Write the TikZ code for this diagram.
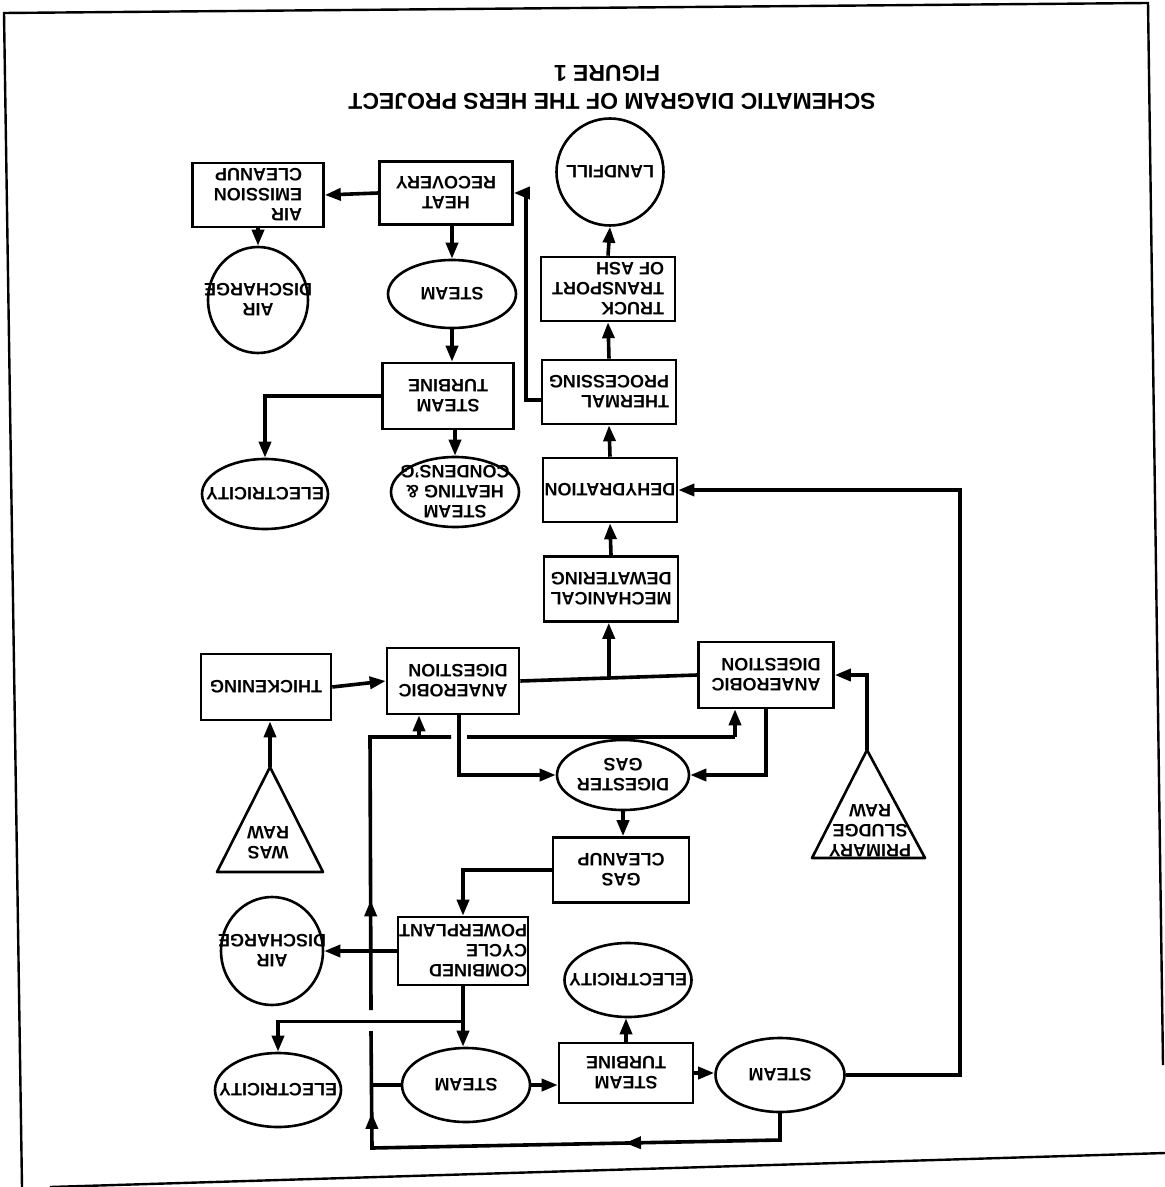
\documentclass[tikz,border=0pt]{standalone}
\usepackage{fontspec}
\setmainfont{Liberation Sans}
\usetikzlibrary{arrows.meta,shapes.geometric,calc,decorations.markings}

\tikzset{
  lbl/.style={font=\bfseries\fontsize{9}{10}\selectfont, rotate=180, inner sep=0pt},
  ttl/.style={font=\bfseries\fontsize{11.5}{12}\selectfont, rotate=180, inner sep=0pt},
  stepbox/.style 2 args={draw, line width=1.3pt, rectangle, inner sep=0pt,
    minimum width=#1, minimum height=#2},
  oval/.style 2 args={draw, line width=1.3pt, ellipse, inner sep=0pt,
    minimum width=#1, minimum height=#2},
  plain/.style={line width=1.8pt},
  arr/.style={line width=1.8pt, -{Triangle[length=8pt,width=6pt]}},
  midarr/.style={postaction={decorate,decoration={markings,
    mark=at position #1 with {\arrow{Triangle[length=8pt,width=6pt]}}}}},
  page/.style={line width=1.2pt},
}

\begin{document}
\begin{tikzpicture}[x=0.5pt,y=-0.5pt]
\useasboundingbox (0,0) rectangle (1165,1187);

% sheet frame
\coordinate (fTL) at (4,13);
\coordinate (fTR) at (1148,3);
\coordinate (fRB) at (1163,1065);
\coordinate (fLB) at (22,1187);
\coordinate (fBL) at (50,1187);
\coordinate (fBR) at (1165,1153);
\draw[page] (fLB) -- (fTL) -- (fTR) -- (fRB);
\draw[page] (fBL) -- (fBR);

% headings
\node[ttl] (fig) at (607,73) {FIGURE 1};
\node[ttl] (title) at (612,101) {SCHEMATIC DIAGRAM OF THE HERS PROJECT};

% process blocks
\node[oval={53.5pt}{53.5pt}] (landfill) at (610,172) {};
\node[stepbox={66.5pt}{31.5pt}] (heatrec) at (446,193) {};
\node[stepbox={65.5pt}{32pt}] (aircl) at (258,195) {};
\node[stepbox={67pt}{32pt}] (truck) at (608,289) {};
\node[oval={64pt}{34pt}] (steam1) at (452,294) {};
\node[oval={50pt}{53pt}] (aird1) at (258,300) {};
\node[stepbox={67pt}{32pt}] (thermal) at (609,392) {};
\node[stepbox={65.5pt}{33pt}] (turb1) at (448,396) {};
\node[oval={63pt}{35pt}] (elec1) at (265,494) {};
\node[oval={64pt}{35pt}] (heatcond) at (455,492) {};
\node[stepbox={67pt}{32pt}] (dehyd) at (610,490) {};
\node[stepbox={67pt}{32.5pt}] (mech) at (611,589) {};
\node[stepbox={65pt}{33pt}] (thick) at (266,687) {};
\node[stepbox={66pt}{33pt}] (adL) at (453,681) {};
\node[stepbox={67.5pt}{33pt}] (adR) at (766,675) {};
\node[oval={66pt}{35pt}] (dgas) at (623,775) {};
\node[stepbox={68pt}{32.5pt}] (gascl) at (621,870) {};
\node[stepbox={65pt}{34pt}] (ccpp) at (463,951) {};
\node[oval={51pt}{54pt}] (aird2) at (272,951) {};
\node[oval={63.5pt}{37pt}] (elec2) at (628,980) {};
\node[oval={64pt}{37pt}] (steam2) at (466,1085) {};
\node[stepbox={67pt}{30pt}] (turb2) at (626,1073) {};
\node[oval={64.5pt}{37pt}] (steam3) at (780,1075) {};
\node[oval={63pt}{37pt}] (elec3) at (278,1090) {};

% feed triangles
\coordinate (wapex) at (270,767);
\coordinate (wbl) at (217,872);
\coordinate (wbr) at (323,872);
\draw[line width=1.3pt, line join=round] (wapex) -- (wbl) -- (wbr) -- cycle;
\coordinate (papex) at (867,750);
\coordinate (pbl) at (812,858);
\coordinate (pbr) at (925,858);
\draw[line width=1.3pt, line join=round] (papex) -- (pbl) -- (pbr) -- cycle;

% labels (lettering runs upside down)
\node[lbl] (t-landfill) at (landfill) {LANDFILL};
\node[lbl, align=center] (t-heatrec) at (heatrec) {HEAT\\RECOVERY};
\node[lbl, align=left] (t-aircl) at (aircl) {AIR\\EMISSION\\CLEANUP};
\node[lbl, align=left] (t-truck) at (truck) {TRUCK\\TRANSPORT\\OF ASH};
\node[lbl] (t-steam1) at (steam1) {STEAM};
\node[lbl, align=center] (t-aird1) at (aird1) {AIR\\DISCHARGE};
\node[lbl, align=left] (t-thermal) at (thermal) {THERMAL\\PROCESSING};
\node[lbl, align=center] (t-turb1) at (turb1) {STEAM\\TURBINE};
\node[lbl] (t-elec1) at (elec1) {ELECTRICITY};
\node[lbl, align=center] (t-heatcond) at (heatcond) {STEAM\\HEATING \&\\CONDENS'G};
\node[lbl] (t-dehyd) at (dehyd) {DEHYDRATION};
\node[lbl, align=left] (t-mech) at (mech) {MECHANICAL\\DEWATERING};
\node[lbl] (t-thick) at (thick) {THICKENING};
\node[lbl, align=left] (t-adL) at (adL) {ANAEROBIC\\DIGESTION};
\node[lbl, align=left] (t-adR) at (adR) {ANAEROBIC\\DIGESTION};
\node[lbl, align=center] (t-dgas) at (dgas) {DIGESTER\\GAS};
\node[lbl, align=center] (t-gascl) at (gascl) {GAS\\CLEANUP};
\node[lbl, align=left] (t-ccpp) at (ccpp) {COMBINED\\CYCLE\\POWERPLANT};
\node[lbl, align=center] (t-aird2) at (aird2) {AIR\\DISCHARGE};
\node[lbl] (t-elec2) at (elec2) {ELECTRICITY};
\node[lbl] (t-steam2) at (steam2) {STEAM};
\node[lbl, align=center] (t-turb2) at (turb2) {STEAM\\TURBINE};
\node[lbl] (t-steam3) at (steam3) {STEAM};
\node[lbl] (t-elec3) at (elec3) {ELECTRICITY};
\node[lbl, align=center] (t-was) at (268,843) {WAS\\RAW};
\node[lbl, align=center] (t-prim) at (870,831) {PRIMARY\\SLUDGE\\RAW};

% solids and ash line
\draw[arr] (truck.north) -- (landfill.south);
\draw[arr] (thermal.north) -- (truck.south);
\draw[arr] (dehyd.north) -- (thermal.south);
\draw[arr] (mech.north) -- (dehyd.south);
\coordinate (thout) at ($(thermal.west)+(0,8)$);
\draw[arr] (thout) -- ++(-15,0) |- (heatrec.east);

% heat recovery train
\draw[arr] (heatrec.west) -- (aircl.east);
\draw[arr] (aircl.south) -- (aird1.north);
\draw[arr] (steam1.north |- heatrec.south) -- (steam1.north);
\draw[arr] (steam1.south) -- (steam1.south |- turb1.north);
\draw[arr] (heatcond.north |- turb1.south) -- (heatcond.north);
\draw[arr] (turb1.west) -| (elec1.north);

% digestion
\draw[plain] (adL.east) -- (adR.west);
\coordinate (j1) at ($(adL.east)!0.5!(adR.west)$);
\draw[arr] (j1) -- (j1 |- mech.south);
\draw[arr] (thick.east) -- (adL.west);
\draw[arr] (wapex) -- (wapex |- thick.south);
\draw[arr] (papex) |- (adR.east);
\draw[arr] (adR.south) |- (dgas.east);
\coordinate (adLout) at ($(adL.south)+(6,0)$);
\draw[arr] (adLout) |- (dgas.west);

% steam return header to the digesters
\coordinate (busTL) at (370,737);
\coordinate (busTR) at (735,737);
\coordinate (tapL) at (419,737);
\coordinate (gapA) at (451,737);
\coordinate (gapB) at (467,737);
\coordinate (vgapLo) at (371,1031);
\coordinate (vgapHi) at (371,1010);
\coordinate (bL) at (372,1148);
\coordinate (bR) at (780,1140);
\draw[plain, midarr=0.31] (vgapHi) -- (busTL) -- (gapA);
\draw[plain] (gapB) -- (busTR);
\draw[arr] (busTR) -- (busTR |- adR.south);
\draw[arr] (tapL) -- (tapL |- adL.south);

% gas train
\draw[arr] (dgas.south) -- (dgas.south |- gascl.north);
\draw[arr] (gascl.west) -| (ccpp.north);
\draw[arr] (ccpp.west) -- (ccpp.west -| aird2.east);
\draw[arr] (ccpp.south) -- (ccpp.south |- steam2.north);
\coordinate (j2) at ($(ccpp.south)+(0,35)$);
\draw[arr] (j2) -| (elec3.north);

% steam cycle
\draw[arr] (steam2.east) -- (steam2.east -| turb2.west);
\draw[arr] (turb2.east) -- (turb2.east -| steam3.west);
\draw[arr] (turb2.north) -- (turb2.north |- elec2.south);
\coordinate (rx) at (960,490);
\draw[arr] (steam3.east) -| (rx) -- (dehyd.east);
\draw[plain, line cap=rect] (steam3.south) -- (bR);
\draw[plain, midarr=0.38, line cap=rect] (bR) -- (bL);
\draw[plain, midarr=0.3] (bL) -- (vgapLo);
\draw[plain] (steam2.west) -- (steam2.west -| bL);
\end{tikzpicture}
\end{document}
